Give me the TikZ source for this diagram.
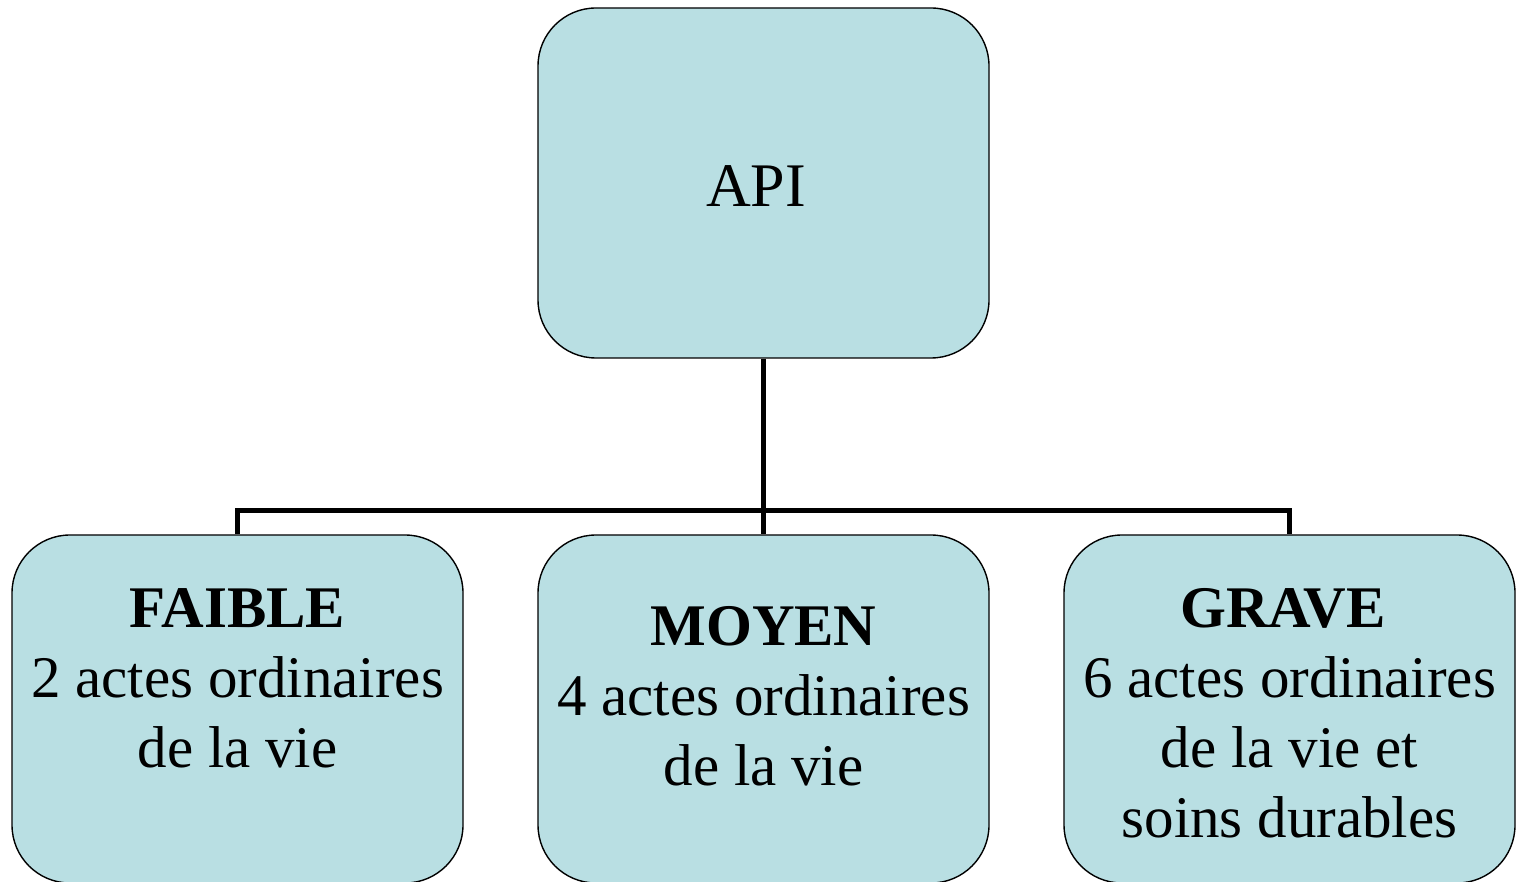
\documentclass[tikz,border=0pt]{standalone}
\usepackage{fontspec}
\setmainfont{Liberation Serif}
\definecolor{boxfill}{RGB}{185,223,227}
\begin{document}
\begin{tikzpicture}[x=1pt,y=1pt,
  box/.style={draw=black,line width=1.4pt,fill=boxfill,rounded corners=58pt,
    minimum width=451pt,inner sep=0pt},
  txt/.style={anchor=base,inner sep=0pt,font=\fontsize{59}{70}\selectfont},
  ttl/.style={txt,font=\fontsize{59}{70}\selectfont\bfseries},
  conn/.style={line width=5pt,line join=miter}]
\useasboundingbox (0,0) rectangle (1522,881);
\node[box,minimum height=350pt] (top) at (763.5,698) {};
\node[box,minimum height=348pt] (left) at (237.5,172) {};
\node[box,minimum height=348pt] (mid) at (763.5,172) {};
\node[box,minimum height=348pt] (right) at (1289.5,172) {};
\coordinate (bus) at (763.5,370);
\node[txt,font=\fontsize{62}{70}\selectfont] (apitxt) at (756,674) {API};
\node[ttl] (l1) at (237.5,254) {FAIBLE};
\node[txt] (l2) at (237.5,184) {2 actes ordinaires};
\node[txt] (l3) at (237.5,114) {de la vie};
\node[ttl] (m1) at (763.5,236) {MOYEN};
\node[txt] (m2) at (763.5,166) {4 actes ordinaires};
\node[txt] (m3) at (763.5,96) {de la vie};
\node[ttl] (r1) at (1283,254) {GRAVE};
\node[txt] (r2) at (1289.5,184) {6 actes ordinaires};
\node[txt] (r3) at (1289.5,114) {de la vie et};
\node[txt] (r4) at (1289.5,44) {soins durables};
\draw[conn] (top.south) -- (mid.north);
\draw[conn] (left.north) -- (left.north |- bus) -- (right.north |- bus) -- (right.north);
\end{tikzpicture}
\end{document}
